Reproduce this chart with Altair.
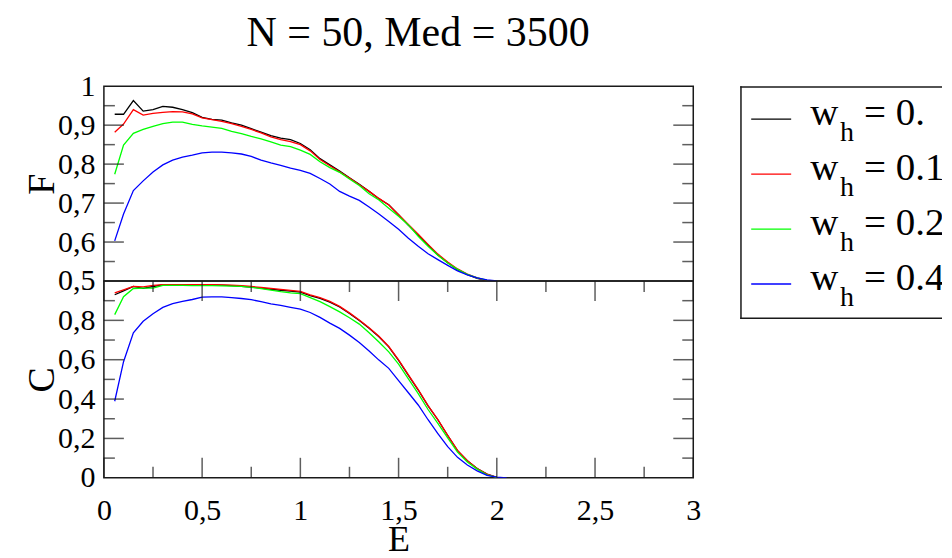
import altair as alt
import pandas as pd

# ---------------- data ----------------
E = [0.055, 0.10, 0.15, 0.20, 0.25, 0.30, 0.35, 0.40, 0.45, 0.50,
     0.55, 0.60, 0.65, 0.70, 0.75, 0.80, 0.85, 0.90, 0.95, 1.00,
     1.05, 1.10, 1.15, 1.20, 1.25, 1.30, 1.35, 1.40, 1.45, 1.50,
     1.55, 1.60, 1.65, 1.70, 1.75, 1.80, 1.85, 1.90, 1.95, 2.00, 2.05]

labels = ["0.", "0.1", "0.2", "0.4"]
colors = ["#000000", "#ff0000", "#00ff00", "#0000ff"]

F_w0 = [0.928, 0.928, 0.963, 0.936, 0.940, 0.948, 0.946, 0.940, 0.932, 0.920,
        0.915, 0.913, 0.906, 0.900, 0.891, 0.882, 0.873, 0.867, 0.863, 0.853,
        0.837, 0.814, 0.798, 0.782, 0.765, 0.748, 0.730, 0.711, 0.696, 0.670,
        0.643, 0.618, 0.592, 0.567, 0.547, 0.529, 0.516, 0.507, 0.501, None, None]
F_w1 = [0.882, 0.903, 0.940, 0.926, 0.930, 0.933, 0.935, 0.934, 0.929, 0.919,
        0.914, 0.910, 0.904, 0.897, 0.889, 0.880, 0.870, 0.863, 0.858, 0.850,
        0.834, 0.812, 0.796, 0.780, 0.764, 0.747, 0.730, 0.712, 0.695, 0.670,
        0.645, 0.620, 0.594, 0.569, 0.549, 0.531, 0.518, 0.508, 0.501, None, None]
F_w2 = [0.774, 0.849, 0.879, 0.889, 0.897, 0.904, 0.908, 0.908, 0.902, 0.898,
        0.895, 0.892, 0.884, 0.878, 0.871, 0.865, 0.857, 0.849, 0.845, 0.836,
        0.825, 0.806, 0.791, 0.779, 0.762, 0.745, 0.724, 0.708, 0.687, 0.666,
        0.644, 0.615, 0.589, 0.566, 0.546, 0.530, 0.517, 0.508, 0.502, None, None]
F_w4 = [0.603, 0.672, 0.732, 0.757, 0.780, 0.798, 0.810, 0.818, 0.823, 0.829,
        0.831, 0.831, 0.829, 0.826, 0.820, 0.810, 0.803, 0.797, 0.790, 0.784,
        0.776, 0.763, 0.749, 0.730, 0.718, 0.707, 0.690, 0.672, 0.653, 0.633,
        0.610, 0.589, 0.570, 0.555, 0.540, 0.526, 0.516, 0.508, 0.503, 0.500, None]

C_w0 = [0.930, 0.950, 0.973, 0.963, 0.972, 0.980, 0.981, 0.981, 0.981, 0.981,
        0.980, 0.979, 0.977, 0.973, 0.969, 0.964, 0.958, 0.953, 0.949, 0.944,
        0.926, 0.912, 0.893, 0.868, 0.835, 0.799, 0.760, 0.717, 0.665, 0.597,
        0.520, 0.446, 0.365, 0.295, 0.215, 0.138, 0.087, 0.047, 0.019, 0.002, None]
C_w1 = [0.940, 0.955, 0.972, 0.970, 0.978, 0.982, 0.982, 0.982, 0.982, 0.982,
        0.981, 0.980, 0.979, 0.976, 0.972, 0.967, 0.962, 0.957, 0.952, 0.947,
        0.929, 0.915, 0.896, 0.871, 0.838, 0.802, 0.763, 0.719, 0.667, 0.599,
        0.523, 0.448, 0.367, 0.296, 0.216, 0.139, 0.087, 0.047, 0.019, 0.002, None]
C_w2 = [0.829, 0.920, 0.962, 0.964, 0.964, 0.978, 0.978, 0.978, 0.977, 0.977,
        0.976, 0.975, 0.974, 0.973, 0.968, 0.961, 0.954, 0.946, 0.940, 0.936,
        0.916, 0.895, 0.870, 0.843, 0.813, 0.781, 0.737, 0.690, 0.640, 0.578,
        0.503, 0.428, 0.347, 0.276, 0.203, 0.130, 0.080, 0.044, 0.015, 0.002, None]
C_w4 = [0.389, 0.590, 0.737, 0.795, 0.834, 0.866, 0.885, 0.896, 0.906, 0.918,
        0.919, 0.919, 0.916, 0.911, 0.905, 0.895, 0.884, 0.876, 0.866, 0.857,
        0.840, 0.815, 0.786, 0.759, 0.725, 0.688, 0.644, 0.598, 0.556, 0.494,
        0.432, 0.370, 0.295, 0.225, 0.158, 0.104, 0.065, 0.035, 0.012, 0.003, 0.000]

E_major = [0, 0.5, 1.0, 1.5, 2.0, 2.5, 3.0]
E_minor = [0.25, 0.75, 1.25, 1.75, 2.25, 2.75]
F_labels = [0.5, 0.6, 0.7, 0.8, 0.9, 1.0]
F_major = [0.6, 0.7, 0.8, 0.9]
F_minor = [0.55, 0.65, 0.75, 0.85, 0.95]
C_labels = [0.0, 0.2, 0.4, 0.6, 0.8]
C_major = [0.2, 0.4, 0.6, 0.8]
C_minor = [0.1, 0.3, 0.5, 0.7, 0.9]

title_text = "N = 50, Med = 3500"

# ---------------- build tables ----------------
def long_table(series):
    rows = []
    for lab, vals in zip(labels, series):
        for e, v in zip(E, vals):
            if v is not None:
                rows.append({"E": e, "v": v, "w": lab})
    return pd.DataFrame(rows)

df_F = long_table([F_w0, F_w1, F_w2, F_w4])
df_C = long_table([C_w0, C_w1, C_w2, C_w4])

SERIF = "Liberation Serif, Times New Roman, Times, serif"
INK = "#1a1a1a"
W, HT, HB = 590, 195, 197
MAJ, MIN = 20, 11

xscale = alt.Scale(domain=[0, 3], nice=False, zero=False)
cscale = alt.Scale(domain=labels, range=colors)
fmt = "replace(format(datum.value, '.1~f'), '.', ',')"


def yaxis(vals, title):
    return alt.Axis(values=vals, labelExpr=fmt, title=title, ticks=False, tickSize=0,
                    domain=False, grid=False, labelFont=SERIF, labelFontSize=30,
                    labelColor="black", labelPadding=9, labelOverlap=False,
                    titleFont=SERIF, titleFontSize=38, titleFontWeight="normal",
                    titleColor="black", titlePadding=-4)


def xaxis_bottom():
    return alt.Axis(values=E_major, labelExpr=fmt, title="E", ticks=False, tickSize=0,
                    domain=False, grid=False, labelFont=SERIF, labelFontSize=30,
                    labelColor="black", labelPadding=18, labelFlush=False,
                    labelOverlap=False, titleFont=SERIF, titleFontSize=36,
                    titleFontWeight="normal", titleColor="black", titlePadding=-3.5)


def yticks(vals, yscale, yax, xax, length, side):
    df = pd.DataFrame({"t": vals})
    x0 = 0 if side == "left" else 3
    off = length / 2 if side == "left" else -length / 2
    return alt.Chart(df).mark_tick(orient="horizontal", size=length, thickness=1.5,
                                   color=INK, xOffset=off).encode(
        x=alt.datum(x0, scale=xscale, axis=xax),
        y=alt.Y("t:Q", scale=yscale, axis=yax),
    )


def xticks(vals, yscale, yax, xax, yval, length, direction):
    df = pd.DataFrame({"t": vals})
    off = -length / 2 if direction == "up" else length / 2
    return alt.Chart(df).mark_tick(orient="vertical", size=length, thickness=1.5,
                                   color=INK, yOffset=off).encode(
        x=alt.X("t:Q", scale=xscale, axis=xax),
        y=alt.datum(yval, scale=yscale, axis=yax),
    )


# top panel (F)
fscale = alt.Scale(domain=[0.5, 1.0], nice=False, zero=False)
fax = yaxis(F_labels, "F")
top_lines = alt.Chart(df_F).mark_line(strokeWidth=1.3, clip=True).encode(
    x=alt.X("E:Q", scale=xscale, axis=None),
    y=alt.Y("v:Q", scale=fscale, axis=fax),
    color=alt.Color("w:N", scale=cscale, legend=None),
    order=alt.Order("E:Q"),
)
top = alt.layer(
    top_lines,
    yticks(F_major, fscale, fax, None, MAJ, "left"),
    yticks(F_minor, fscale, fax, None, MIN, "left"),
    yticks(F_major, fscale, fax, None, MAJ, "right"),
    yticks(F_minor, fscale, fax, None, MIN, "right"),
).properties(width=W, height=HT)

# bottom panel (C)
cyscale = alt.Scale(domain=[0.0, 1.0], nice=False, zero=False)
cax = yaxis(C_labels, "C")
eax = xaxis_bottom()
bot_lines = alt.Chart(df_C).mark_line(strokeWidth=1.3, clip=True).encode(
    x=alt.X("E:Q", scale=xscale, axis=eax),
    y=alt.Y("v:Q", scale=cyscale, axis=cax),
    color=alt.Color("w:N", scale=cscale, legend=None),
    order=alt.Order("E:Q"),
)
bottom = alt.layer(
    bot_lines,
    yticks(C_major, cyscale, cax, eax, MAJ, "left"),
    yticks(C_minor, cyscale, cax, eax, MIN, "left"),
    yticks(C_major, cyscale, cax, eax, MAJ, "right"),
    yticks(C_minor, cyscale, cax, eax, MIN, "right"),
    xticks(E_major, cyscale, cax, eax, 0.0, MAJ, "up"),
    xticks(E_minor, cyscale, cax, eax, 0.0, MIN, "up"),
    xticks(E_major, cyscale, cax, eax, 1.0, MAJ, "down"),
    xticks(E_minor, cyscale, cax, eax, 1.0, MIN, "down"),
).properties(width=W, height=HB)

plots = alt.vconcat(top, bottom, spacing=0, bounds="flush").resolve_scale(y="independent")

# legend panel
LW, LH = 205, 233
BX = 3
leg_df = pd.DataFrame({"w": labels, "txt": ["= " + s for s in labels]})
ly = alt.Y("w:N", scale=alt.Scale(type="point", domain=labels, range=[33, 198], padding=0), axis=None)
one = leg_df.head(1)
box_top = alt.Chart(one).mark_rule(color=INK, strokeWidth=1.5).encode(
    x=alt.value(BX), x2=alt.value(LW), y=alt.value(0.75))
box_bot = alt.Chart(one).mark_rule(color=INK, strokeWidth=1.5).encode(
    x=alt.value(BX), x2=alt.value(LW), y=alt.value(LH - 0.75))
box_left = alt.Chart(one).mark_rule(color=INK, strokeWidth=1.5).encode(
    x=alt.value(BX + 0.75), y=alt.value(0), y2=alt.value(LH))
samples = alt.Chart(leg_df).mark_rule(strokeWidth=1.3).encode(
    x=alt.value(BX + 11), x2=alt.value(BX + 51), y=ly,
    color=alt.Color("w:N", scale=cscale, legend=None))
t_w = alt.Chart(leg_df).mark_text(align="left", baseline="alphabetic", dy=6, font=SERIF,
                                  fontSize=39, color="black", clip=True).encode(
    x=alt.value(BX + 70), y=ly, text=alt.value("w"))
t_h = alt.Chart(leg_df).mark_text(align="left", baseline="alphabetic", dy=22, font=SERIF,
                                  fontSize=28, color="black", clip=True).encode(
    x=alt.value(BX + 100), y=ly, text=alt.value("h"))
t_eq = alt.Chart(leg_df).mark_text(align="left", baseline="alphabetic", dy=6, font=SERIF,
                                   fontSize=39, color="black", clip=True).encode(
    x=alt.value(BX + 124), y=ly, text="txt:N")
legend = alt.layer(box_top, box_bot, box_left, samples, t_w, t_h, t_eq).properties(
    width=LW, height=LH, view=alt.ViewBackground(stroke="transparent"))

chart = alt.hconcat(plots, legend, spacing=34).resolve_scale(
    x="independent", y="independent", color="shared"
).properties(
    title=alt.TitleParams(title_text, font=SERIF, fontSize=42, fontWeight="normal",
                          color="black", anchor="start", dx=224, offset=16),
    padding={"left": 14, "top": 3, "right": 0, "bottom": -7},
    background="white",
).configure_view(stroke=INK, strokeWidth=1.5)

chart.save("out.html", embed_options={"renderer": "svg", "actions": False})
